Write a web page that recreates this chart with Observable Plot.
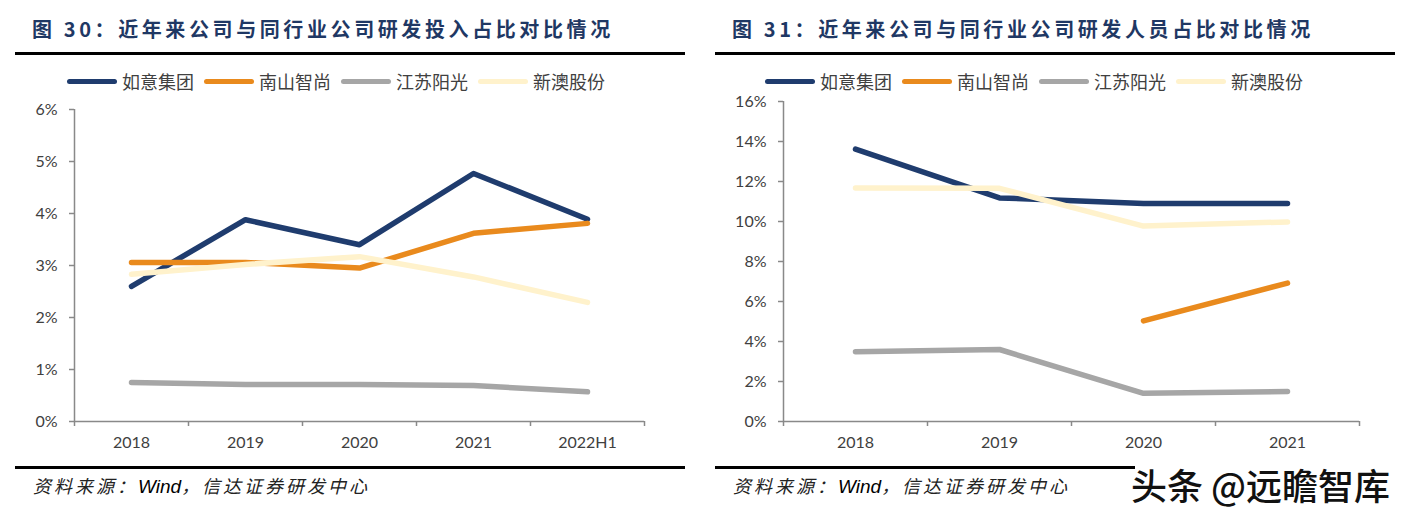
<!DOCTYPE html>
<html>
<head>
<meta charset="utf-8">
<script src="https://cdn.jsdelivr.net/npm/d3@7"></script>
<script src="https://cdn.jsdelivr.net/npm/@observablehq/plot@0.6"></script>
<style>
  html, body { margin: 0; padding: 0; background: #fff; }
  #root { position: relative; width: 1409px; height: 510px; overflow: hidden; background: #fff; }
  .title { position: absolute; top: 15px; font-family: "Noto Sans CJK SC", sans-serif; font-weight: 700; font-size: 20px; letter-spacing: 3.6px; color: #1F3864; white-space: nowrap; line-height: 28px; }
  .rule { position: absolute; height: 3px; background: #000; }
  .legend { position: absolute; top: 69px; display: flex; align-items: center; font-family: "Noto Sans CJK SC", sans-serif; font-size: 18px; color: #404040; line-height: 24px; }
  .legend .item { display: flex; align-items: center; margin-right: 10px; }
  .legend .sw { width: 50px; height: 5px; border-radius: 3px; margin-right: 5px; }
  .src { position: absolute; top: 472px; font-family: "Noto Sans CJK SC", sans-serif; font-style: italic; font-size: 18px; letter-spacing: 3px; color: #222; white-space: nowrap; line-height: 26px; }
  .src b { font-family: "Liberation Sans", sans-serif; font-weight: 400; color: #000; letter-spacing: 0; font-size: 19px; }
  .plot { position: absolute; top: 90px; }
  .wm { position: absolute; left: 1131px; top: 462px; font-family: "Noto Sans CJK SC", sans-serif; font-weight: 500; font-size: 36px; color: #111; white-space: nowrap; text-shadow: 1px 1px 0 #fff, -1px -1px 0 #fff; line-height: 44px; }
</style>
</head>
<body>
<div id="root"></div>
<script>
// ---------- data ----------
const seriesNames = ["如意集团", "南山智尚", "江苏阳光", "新澳股份"];
const seriesColors = ["#1F3C6E", "#E98A1D", "#A6A6A6", "#FFF2CC"];

// Chart 1: R&D expense ratio (%)
const years1 = ["2018", "2019", "2020", "2021", "2022H1"];
const ruyi1   = [2.60, 3.88, 3.40, 4.77, 3.89];
const nanshan1= [3.06, 3.06, 2.95, 3.62, 3.81];
const jiangsu1= [0.75, 0.71, 0.71, 0.69, 0.57];
const xinao1  = [2.83, 3.02, 3.17, 2.78, 2.29];
const yTicks1 = [0, 1, 2, 3, 4, 5, 6];

// Chart 2: R&D staff ratio (%)
const years2 = ["2018", "2019", "2020", "2021"];
const ruyi2   = [13.62, 11.18, 10.90, 10.90];
const nanshan2= [null, null, 5.03, 6.92];
const jiangsu2= [3.49, 3.60, 1.41, 1.50];
const xinao2  = [11.68, 11.66, 9.77, 9.98];
const yTicks2 = [0, 2, 4, 6, 8, 10, 12, 14, 16];

const title1 = "图 30：近年来公司与同行业公司研发投入占比对比情况";
const title2 = "图 31：近年来公司与同行业公司研发人员占比对比情况";
const sourceLabel = ["资料来源：", "Wind", "，信达证券研发中心"];
const watermark = "头条 @远瞻智库";

// ---------- helpers ----------
const root = document.getElementById("root");
function el(tag, cls, style, html) {
  const e = document.createElement(tag);
  if (cls) e.className = cls;
  if (style) Object.assign(e.style, style);
  if (html != null) e.innerHTML = html;
  root.appendChild(e);
  return e;
}

function rows(years, seriesArrays) {
  const out = [];
  seriesArrays.forEach((arr, s) => {
    arr.forEach((v, i) => out.push({series: seriesNames[s], i, year: years[i], v}));
  });
  return out;
}

function makeChart({years, series, yTicks, yMax, width, height, marginLeft, marginRight, marginTop, marginBottom}) {
  const data = rows(years, series);
  const n = years.length;
  const idx = d3.range(n + 1);
  const mids = d3.range(n).map(i => i + 0.5);
  const axisColor = "#898989";
  const textColor = "#404040";
  return Plot.plot({
    width, height, marginLeft, marginRight, marginTop, marginBottom,
    style: {fontFamily: "Lato, 'Noto Sans', sans-serif", fontSize: "16px", background: "transparent"},
    x: {type: "linear", domain: [0, n], axis: null, label: null},
    y: {domain: [0, yMax], axis: null, label: null},
    color: {domain: seriesNames, range: seriesColors},
    marks: [
      Plot.axisY({ticks: yTicks, tickSize: 5, tickFormat: () => "", label: null, color: axisColor, strokeWidth: 1.5}),
      Plot.axisY({ticks: yTicks, tickSize: 0, tickPadding: 17, tickFormat: d => d + "%", label: null, color: textColor, fontSize: 16}),
      Plot.axisX({ticks: idx, tickSize: 5, tickFormat: () => "", label: null, color: axisColor, strokeWidth: 1.5}),
      Plot.axisX({ticks: mids, tickSize: 0, tickPadding: 15, tickFormat: d => years[Math.floor(d)], label: null, color: textColor, fontSize: 16}),
      Plot.ruleX([0], {y1: 0, y2: yMax, stroke: axisColor, strokeWidth: 1.5}),
      Plot.ruleY([0], {stroke: axisColor, strokeWidth: 1.5}),
      Plot.line(data, {
        x: d => d.i + 0.5, y: "v", z: "series", stroke: "series",
        strokeWidth: 5.5, strokeLinecap: "round", strokeLinejoin: "round"
      })
    ]
  });
}

function legend(left) {
  const lg = el("div", "legend", {left: left + "px"});
  seriesNames.forEach((name, k) => {
    const it = document.createElement("div");
    it.className = "item";
    it.innerHTML = `<span class="sw" style="background:${seriesColors[k]}"></span><span>${name}</span>`;
    lg.appendChild(it);
  });
}

// ---------- left panel ----------
el("div", "title", {left: "32px"}, title1);
el("div", "rule", {left: "15px", width: "670px", top: "52px"});
legend(67);
const p1 = makeChart({
  years: years1, series: [ruyi1, nanshan1, jiangsu1, xinao1], yTicks: yTicks1, yMax: 6,
  width: 700, height: 370, marginLeft: 74, marginRight: 56, marginTop: 19, marginBottom: 39
});
p1.classList.add("plot");
p1.style.left = "0px";
root.appendChild(p1);
el("div", "rule", {left: "15px", width: "670px", top: "466px"});
el("div", "src", {left: "33px"}, sourceLabel[0] + "<b><i>" + sourceLabel[1] + "</i></b>" + sourceLabel[2]);

// ---------- right panel ----------
el("div", "title", {left: "732px"}, title2);
el("div", "rule", {left: "715px", width: "680px", top: "52px"});
legend(765);
const p2 = makeChart({
  years: years2, series: [ruyi2, nanshan2, jiangsu2, xinao2], yTicks: yTicks2, yMax: 16,
  width: 704, height: 370, marginLeft: 78, marginRight: 50, marginTop: 11, marginBottom: 39
});
p2.classList.add("plot");
p2.style.left = "705px";
root.appendChild(p2);
el("div", "rule", {left: "715px", width: "420px", top: "466px"});
el("div", "src", {left: "733px"}, sourceLabel[0] + "<b><i>" + sourceLabel[1] + "</i></b>" + sourceLabel[2]);
el("div", "wm", null, watermark);
</script>
</body>
</html>
